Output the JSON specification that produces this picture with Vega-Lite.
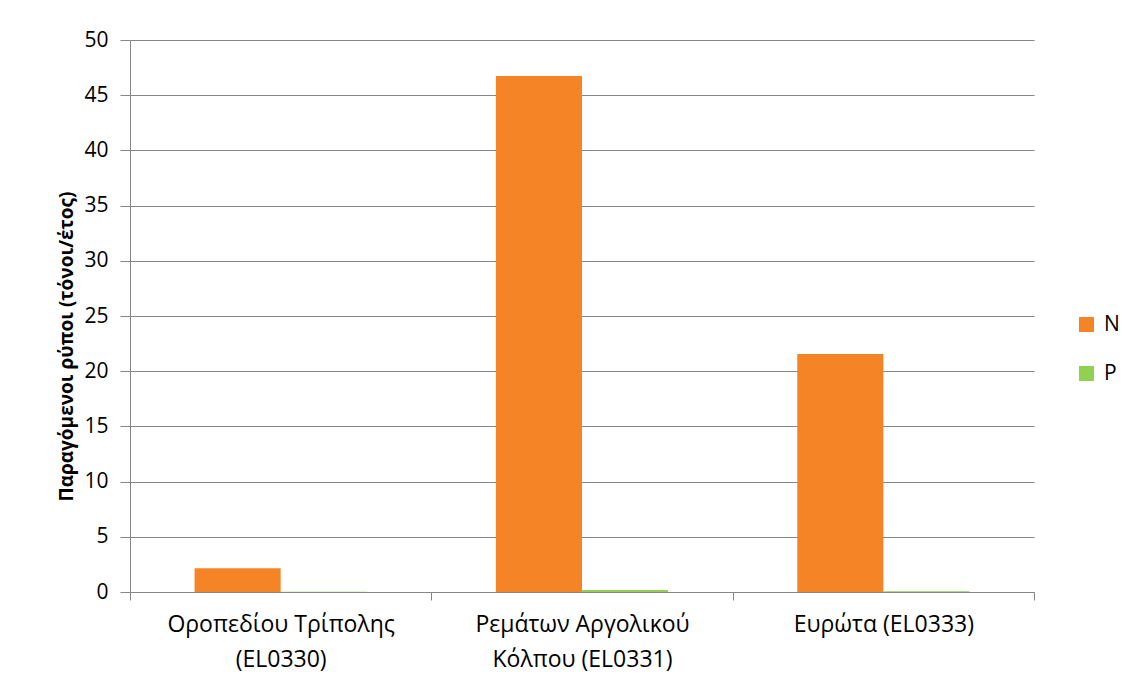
{
  "$schema": "https://vega.github.io/schema/vega-lite/v6.json",
  "width": 904,
  "height": 552,
  "autosize": {"type": "none"},
  "padding": {"left": 130, "top": 40, "right": 98, "bottom": 92},
  "background": "white",
  "data": {
    "values": [
      {"basin": "Οροπεδίου Τρίπολης (EL0330)", "pollutant": "N", "value": 2.15},
      {"basin": "Οροπεδίου Τρίπολης (EL0330)", "pollutant": "P", "value": 0.02},
      {"basin": "Ρεμάτων Αργολικού Κόλπου (EL0331)", "pollutant": "N", "value": 46.75},
      {"basin": "Ρεμάτων Αργολικού Κόλπου (EL0331)", "pollutant": "P", "value": 0.18},
      {"basin": "Ευρώτα (EL0333)", "pollutant": "N", "value": 21.55},
      {"basin": "Ευρώτα (EL0333)", "pollutant": "P", "value": 0.07}
    ]
  },
  "mark": {"type": "bar"},
  "encoding": {
    "x": {
      "field": "basin",
      "type": "nominal",
      "sort": null,
      "scale": {"paddingInner": 0, "paddingOuter": 0},
      "axis": {
        "title": null,
        "labelAngle": 0,
        "tickBand": "extent",
        "domainColor": "#868686",
        "tickColor": "#868686",
        "tickSize": 8,
        "labelFont": "Open Sans",
        "labelFontSize": 23,
        "labelColor": "#000000",
        "labelPadding": 24,
        "labelLineHeight": 35,
        "labelBaseline": "middle",
        "labelLimit": 0,
        "labelExpr": "datum.value == 'Οροπεδίου Τρίπολης (EL0330)' ? ['Οροπεδίου Τρίπολης', '(EL0330)'] : datum.value == 'Ρεμάτων Αργολικού Κόλπου (EL0331)' ? ['Ρεμάτων Αργολικού', 'Κόλπου (EL0331)'] : datum.value"
      }
    },
    "xOffset": {
      "field": "pollutant",
      "type": "nominal",
      "scale": {"paddingInner": 0, "paddingOuter": 0.75}
    },
    "y": {
      "field": "value",
      "type": "quantitative",
      "scale": {"domain": [0, 50], "nice": false},
      "axis": {
        "title": "Παραγόμενοι ρύποι (τόνοι/έτος)",
        "titleFont": "Open Sans",
        "titleFontSize": 19,
        "titleFontWeight": "bold",
        "titleColor": "#000000",
        "titleX": -64,
        "titleY": 306,
        "titleAngle": 270,
        "titleAlign": "center",
        "titleBaseline": "middle",
        "values": [0, 5, 10, 15, 20, 25, 30, 35, 40, 45, 50],
        "labelFont": "Open Sans",
        "labelFontSize": 21,
        "labelColor": "#000000",
        "labelPadding": 12,
        "tickSize": 10,
        "tickColor": "#868686",
        "domainColor": "#868686",
        "grid": true,
        "gridColor": "#868686"
      }
    },
    "color": {
      "field": "pollutant",
      "type": "nominal",
      "scale": {"domain": ["N", "P"], "range": ["#F58426", "#92D050"]},
      "legend": {
        "title": null,
        "orient": "none",
        "legendX": 946,
        "legendY": 274,
        "symbolType": "square",
        "symbolSize": 225,
        "symbolStrokeWidth": 0,
        "labelFont": "Open Sans",
        "labelFontSize": 21,
        "labelColor": "#000000",
        "rowPadding": 27,
        "labelOffset": 7
      }
    }
  },
  "config": {
    "view": {"stroke": null},
    "axis": {"domainWidth": 1, "tickWidth": 1, "gridWidth": 1}
  }
}
